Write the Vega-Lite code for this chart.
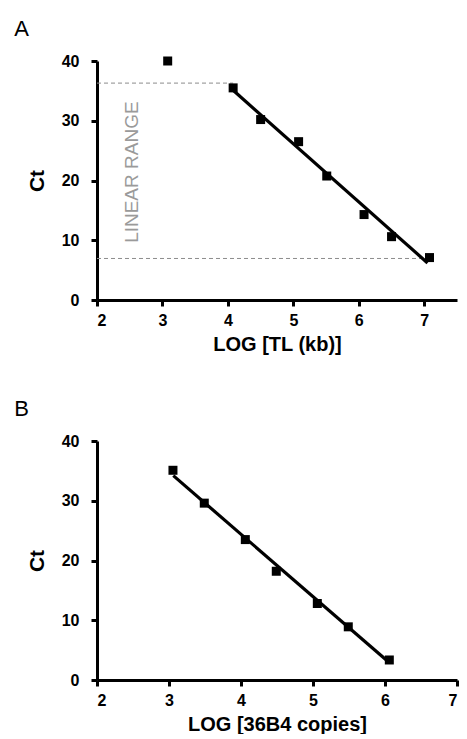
{
  "$schema": "https://vega.github.io/schema/vega-lite/v6.json",
  "padding": {"left": 14, "top": 18, "right": 2, "bottom": 0},
  "background": "white",
  "config": {
    "font": "Liberation Sans",
    "view": {"stroke": null},
    "axis": {
      "grid": false,
      "domainColor": "black",
      "domainWidth": 3,
      "tickColor": "black",
      "tickWidth": 3,
      "tickSize": 6,
      "labelFont": "Liberation Sans",
      "labelFontWeight": "bold",
      "labelFontSize": 16,
      "labelColor": "black",
      "titleFont": "Liberation Sans",
      "titleFontWeight": "bold",
      "titleFontSize": 20,
      "titleColor": "black"
    },
    "axisX": {"labelPadding": 6, "titlePadding": 6, "labelDx": -4, "format": "d"},
    "axisY": {"labelPadding": 12, "titlePadding": 14, "titleFontSize": 21, "format": "d"},
    "title": {"font": "Liberation Sans", "fontWeight": "normal", "fontSize": 22, "color": "black", "anchor": "start", "frame": "bounds"}
  },
  "datasets": {
    "a_points": [
      {"x": 3.08, "ct": 40.0},
      {"x": 4.08, "ct": 35.5},
      {"x": 4.50, "ct": 30.2},
      {"x": 5.08, "ct": 26.5},
      {"x": 5.51, "ct": 20.75},
      {"x": 6.08, "ct": 14.3},
      {"x": 6.50, "ct": 10.6},
      {"x": 7.08, "ct": 7.1}
    ],
    "a_fit": [
      {"x": 4.08, "ct": 35.1},
      {"x": 7.05, "ct": 6.2}
    ],
    "a_range": [
      {"x": 2.0, "x2": 4.08, "ct": 36.3},
      {"x": 2.0, "x2": 7.05, "ct": 6.95}
    ],
    "a_label": [
      {"x": 2.53, "ct": 21.4, "label": "LINEAR RANGE"}
    ],
    "b_points": [
      {"x": 3.055, "ct": 35.1},
      {"x": 3.49, "ct": 29.6},
      {"x": 4.06, "ct": 23.5},
      {"x": 4.49, "ct": 18.2},
      {"x": 5.06, "ct": 12.8},
      {"x": 5.49, "ct": 8.9},
      {"x": 6.06, "ct": 3.35}
    ],
    "b_fit": [
      {"x": 3.06, "ct": 34.2},
      {"x": 6.05, "ct": 3.0}
    ]
  },
  "spacing": 44,
  "vconcat": [
    {
      "title": {"text": "A", "dx": -12, "offset": 12},
      "width": 360,
      "height": 239,
      "layer": [
        {
          "data": {"name": "a_range"},
          "mark": {"type": "rule", "color": "#8c8c8c", "strokeDash": [4, 3], "strokeWidth": 1},
          "encoding": {
            "x": {"field": "x", "type": "quantitative", "title": "LOG [TL (kb)]", "scale": {"domain": [2, 7.5], "nice": false, "zero": false}, "axis": {"values": [2, 3, 4, 5, 6, 7]}},
            "x2": {"field": "x2"},
            "y": {"field": "ct", "type": "quantitative", "title": "Ct", "scale": {"domain": [0, 40], "nice": false}, "axis": {"values": [0, 10, 20, 30, 40]}}
          }
        },
        {
          "data": {"name": "a_fit"},
          "mark": {"type": "line", "color": "black", "strokeWidth": 3.2},
          "encoding": {
            "x": {"field": "x", "type": "quantitative", "title": "LOG [TL (kb)]"},
            "y": {"field": "ct", "type": "quantitative", "title": "Ct"}
          }
        },
        {
          "data": {"name": "a_points"},
          "mark": {"type": "square", "color": "black", "size": 81, "opacity": 1, "filled": true},
          "encoding": {
            "x": {"field": "x", "type": "quantitative", "title": "LOG [TL (kb)]"},
            "y": {"field": "ct", "type": "quantitative", "title": "Ct"}
          }
        },
        {
          "data": {"name": "a_label"},
          "mark": {"type": "text", "angle": 270, "fontSize": 19, "color": "#9a9a9a", "align": "center", "baseline": "middle", "font": "Liberation Sans"},
          "encoding": {
            "x": {"field": "x", "type": "quantitative", "title": "LOG [TL (kb)]"},
            "y": {"field": "ct", "type": "quantitative", "title": "Ct"},
            "text": {"field": "label"}
          }
        }
      ]
    },
    {
      "title": {"text": "B", "dx": -12, "offset": 12},
      "width": 360,
      "height": 239,
      "layer": [
        {
          "data": {"name": "b_fit"},
          "mark": {"type": "line", "color": "black", "strokeWidth": 3.2},
          "encoding": {
            "x": {"field": "x", "type": "quantitative", "title": "LOG [36B4 copies]", "scale": {"domain": [2, 7], "nice": false, "zero": false}, "axis": {"values": [2, 3, 4, 5, 6, 7]}},
            "y": {"field": "ct", "type": "quantitative", "title": "Ct", "scale": {"domain": [0, 40], "nice": false}, "axis": {"values": [0, 10, 20, 30, 40]}}
          }
        },
        {
          "data": {"name": "b_points"},
          "mark": {"type": "square", "color": "black", "size": 81, "opacity": 1, "filled": true},
          "encoding": {
            "x": {"field": "x", "type": "quantitative", "title": "LOG [36B4 copies]"},
            "y": {"field": "ct", "type": "quantitative", "title": "Ct"}
          }
        }
      ]
    }
  ]
}
